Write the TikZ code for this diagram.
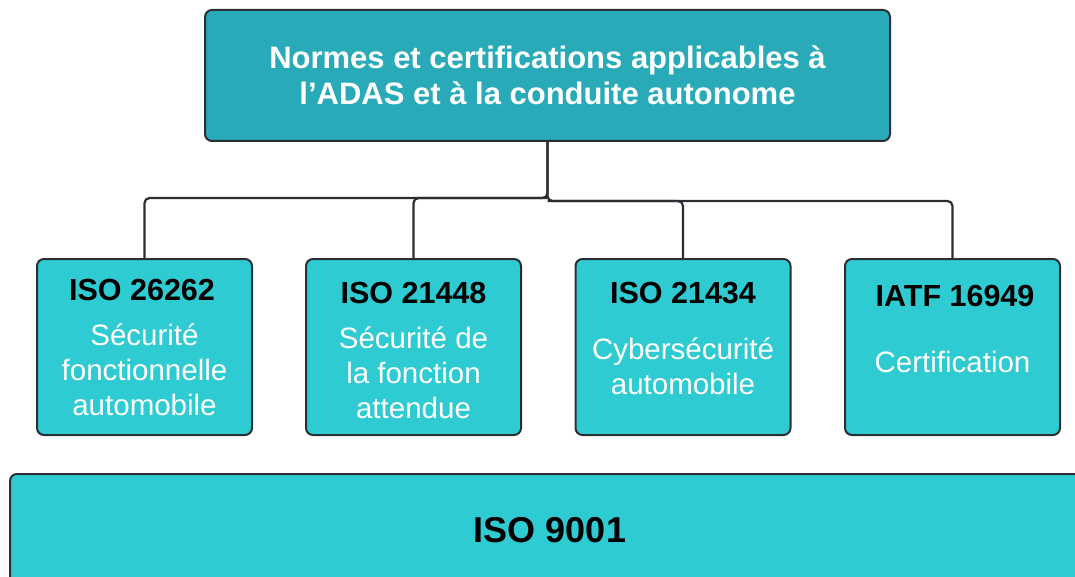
\documentclass[tikz,border=0pt]{standalone}
\usepackage{fontspec}
\setmainfont{Liberation Sans}
\usetikzlibrary{positioning}
\definecolor{headteal}{HTML}{29AAB8}
\definecolor{boxteal}{HTML}{2ECBD2}
\definecolor{edgegray}{HTML}{2B2F33}

\begin{document}
\begin{tikzpicture}[x=1pt,y=-1pt,
    headbox/.style={draw=edgegray,line width=2pt,rounded corners=7pt,fill=headteal,
      minimum width=685pt,minimum height=131pt,inner sep=0pt,text=white,align=center,
      font=\fontsize{31}{36}\selectfont\bfseries},
    normbox/.style={draw=edgegray,line width=2pt,rounded corners=7pt,fill=boxteal,
      minimum width=215pt,minimum height=176pt,inner sep=0pt},
    normtitle/.style={font=\fontsize{30.5}{34}\selectfont\bfseries,text=black,inner sep=0pt},
    normtext/.style={font=\fontsize{29.5}{35}\selectfont,text=white,align=center,inner sep=0pt},
    link/.style={draw=edgegray,line width=2.2pt,rounded corners=5pt}]
    \useasboundingbox (0,0) rectangle (1075,577);
    \node[headbox] (head) at (547.5,75.5) {Normes et certifications applicables à\\l’ADAS et à la conduite autonome};
    \node[normbox] (n1) at (144.5,347) {};
    \node[normbox] (n2) at (413.5,347) {};
    \node[normbox] (n3) at (683,347) {};
    \node[normbox] (n4) at (952.5,347) {};
    \node[normtitle] (t1) at (142,290) {ISO 26262};
    \node[normtitle] (t2) at (413.5,293) {ISO 21448};
    \node[normtitle] (t3) at (683,293) {ISO 21434};
    \node[normtitle] (t4) at (955,296) {IATF 16949};
    \node[normtext] (s1) at (144.5,370) {Sécurité\\fonctionnelle\\automobile};
    \node[normtext] (s2) at (413.5,373) {Sécurité de\\la fonction\\attendue};
    \node[normtext] (s3) at (683,366) {Cybersécurité\\automobile};
    \node[normtext] (s4) at (952.5,362) {Certification};
    \node[normbox,minimum width=1080pt,minimum height=112pt,text=black,
      font=\fontsize{36}{40}\selectfont\bfseries] (iso9001) at (550,530) {ISO 9001};
    \coordinate (splitl) at (547.5,198);
    \coordinate (splitr) at (547.5,201);
    \draw[link] (head.south) -- (splitl) -| (n1.north);
    \draw[link] (splitl) -| (n2.north);
    \draw[link] (head.south) -- (splitr) -| (n3.north);
    \draw[link] (splitr) -| (n4.north);
\end{tikzpicture}
\end{document}
